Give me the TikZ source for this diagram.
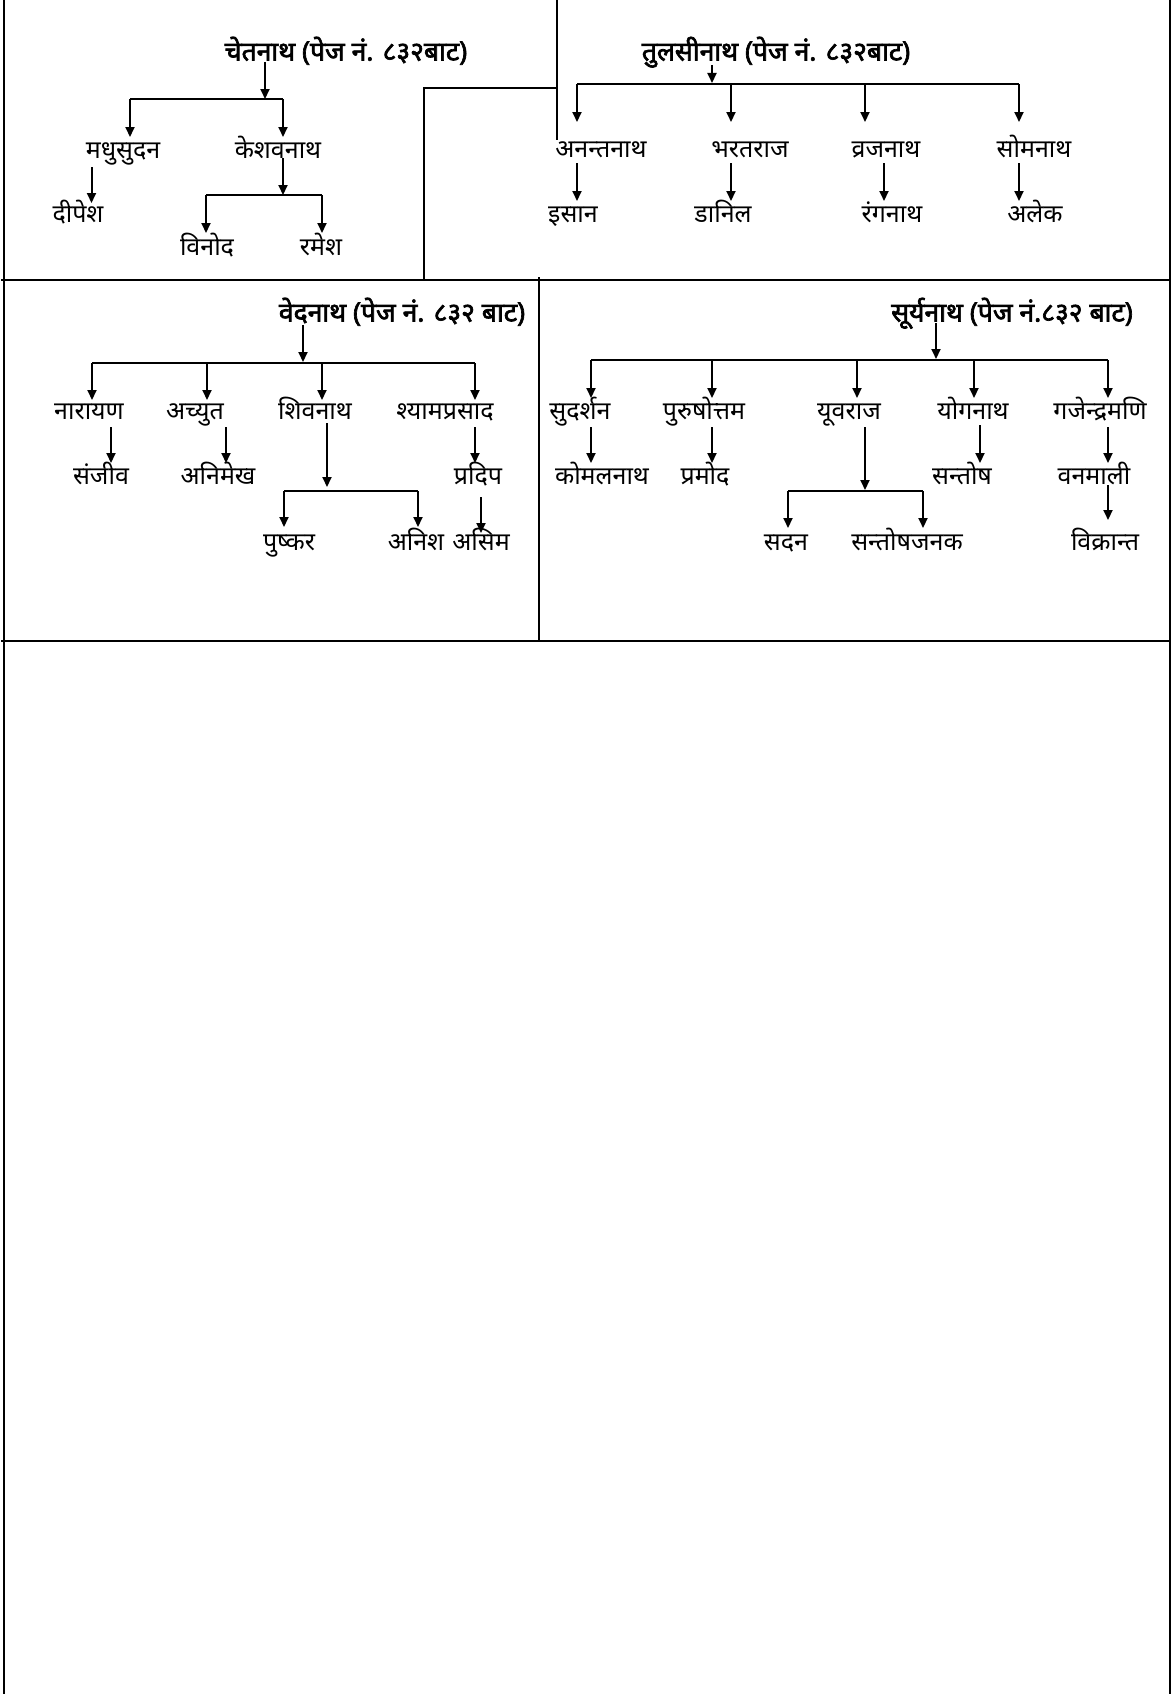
\documentclass[tikz,border=0pt]{standalone}
\usepackage{fontspec}
\usetikzlibrary{arrows.meta}
\newfontfamily\deva[Script=Devanagari]{Noto Sans}
\newfontfamily\devab[Script=Devanagari,FakeBold=2.5]{Noto Sans}
\tikzset{
 nm/.style={font=\deva\fontsize{25}{30}\selectfont, inner sep=0pt, anchor=base, yshift=-2pt},
 ttl/.style={font=\devab\fontsize{26.5}{30}\selectfont, inner sep=0pt, anchor=base, yshift=-1.5pt},
 arr/.style={line width=2pt, -{Triangle[width=9pt,length=10pt]}},
 ln/.style={line width=2pt},
}
\begin{document}
\begin{tikzpicture}[x=1pt,y=-1pt]
\useasboundingbox (0,0) rectangle (1173,1694);
% frame
\draw[ln] (4,0) -- (4,1694);
\draw[ln] (1170,0) -- (1170,1694);
\draw[ln] (1,280) -- (1171,280);
\draw[ln] (1,641) -- (1171,641);
\draw[ln] (557,0) -- (557,140);
\draw[ln] (424,280) -- (424,88) -- (557,88);
\draw[ln] (539,277) -- (539,641);

% ---------- section 1
\node[ttl] (t1) at (346,59) {चेतनाथ (पेज नं. ८३२बाट)};
\node[nm] (madhu) at (123,156) {मधुसुदन};
\node[nm] (keshav) at (278,156) {केशवनाथ};
\node[nm] (dipesh) at (78,220) {दीपेश};
\node[nm] (vinod) at (207,253) {विनोद};
\node[nm] (ramesh) at (321,253) {रमेश};
\coordinate (a1) at (265,62); \coordinate (b1) at (265,99);
\draw[arr] (a1) -- (b1);
\draw[ln] (130,99) -- (283,99);
\draw[arr] (130,99) -- (130,137);
\draw[arr] (283,99) -- (283,137);
\draw[arr] (91.5,167) -- (91.5,203);
\draw[arr] (283,158) -- (283,195);
\draw[ln] (206,195) -- (322,195);
\draw[arr] (206,195) -- (206,233);
\draw[arr] (322,195) -- (322,233);

% ---------- section 2
\node[ttl] (t2) at (776,59) {तुलसीनाथ (पेज नं. ८३२बाट)};
\node[nm] (anant) at (601,155) {अनन्तनाथ};
\node[nm] (bharat) at (750,155) {भरतराज};
\node[nm] (vraj) at (886,155) {व्रजनाथ};
\node[nm] (soma) at (1034,155) {सोमनाथ};
\node[nm] (isan) at (573,220) {इसान};
\node[nm] (danil) at (723,220) {डानिल};
\node[nm] (ranga) at (892,220) {रंगनाथ};
\node[nm] (alek) at (1035,220) {अलेक};
\draw[arr] (712,65) -- (712,83);
\draw[ln] (577,84) -- (1019,84);
\foreach \x in {577,731,865,1019} \draw[arr] (\x,84) -- (\x,122);
\foreach \x in {577,731,884,1019} \draw[arr] (\x,163) -- (\x,201);

% ---------- section 3
\node[ttl] (t3) at (402,320) {वेदनाथ (पेज नं. ८३२ बाट)};
\node[nm] (narayan) at (89,417) {नारायण};
\node[nm] (achyut) at (195,417) {अच्युत};
\node[nm] (shiva) at (315,417) {शिवनाथ};
\node[nm] (shyam) at (445,417) {श्यामप्रसाद};
\node[nm] (sanjiv) at (101,482) {संजीव};
\node[nm] (animesh) at (218,482) {अनिमेख};
\node[nm] (pradip) at (478,482) {प्रदिप};
\node[nm] (pushkar) at (289,548) {पुष्कर};
\node[nm] (anish) at (416,548) {अनिश};
\node[nm] (asim) at (481,548) {असिम};
\draw[arr] (303,325) -- (303,362);
\draw[ln] (92,363) -- (475,363);
\foreach \x in {92,207,322,475} \draw[arr] (\x,363) -- (\x,400);
\draw[arr] (111,427) -- (111,463);
\draw[arr] (226,427) -- (226,463);
\draw[arr] (327,423) -- (327,487);
\draw[arr] (475,427) -- (475,463);
\draw[ln] (284,491) -- (418,491);
\draw[arr] (284,491) -- (284,527);
\draw[arr] (418,491) -- (418,527);
\draw[arr] (481,497) -- (481,533);

% ---------- section 4
\node[ttl] (t4) at (1012,320) {सूर्यनाथ (पेज नं.८३२ बाट)};
\node[nm] (sudarshan) at (580,417) {सुदर्शन};
\node[nm] (purush) at (704,417) {पुरुषोत्तम};
\node[nm] (yuvraj) at (849,417) {यूवराज};
\node[nm] (yoga) at (973,417) {योगनाथ};
\node[nm] (gajendra) at (1100,417) {गजेन्द्रमणि};
\node[nm] (komal) at (602,482) {कोमलनाथ};
\node[nm] (pramod) at (705,482) {प्रमोद};
\node[nm] (santosh) at (962,482) {सन्तोष};
\node[nm] (vanamali) at (1094,482) {वनमाली};
\node[nm] (sadan) at (786,548) {सदन};
\node[nm] (santoshj) at (907,548) {सन्तोषजनक};
\node[nm] (vikrant) at (1105,548) {विक्रान्त};
\draw[arr] (936,323) -- (936,359);
\draw[ln] (591,360) -- (1108,360);
\foreach \x in {591,712,857,974,1108} \draw[arr] (\x,360) -- (\x,398);
\draw[arr] (591,427) -- (591,463);
\draw[arr] (712,427) -- (712,463);
\draw[arr] (865,427) -- (865,490);
\draw[arr] (980,425) -- (980,463);
\draw[arr] (1108,427) -- (1108,463);
\draw[ln] (788,491) -- (923,491);
\draw[arr] (788,491) -- (788,528);
\draw[arr] (923,491) -- (923,528);
\draw[arr] (1108,485) -- (1108,520);
\end{tikzpicture}
\end{document}
